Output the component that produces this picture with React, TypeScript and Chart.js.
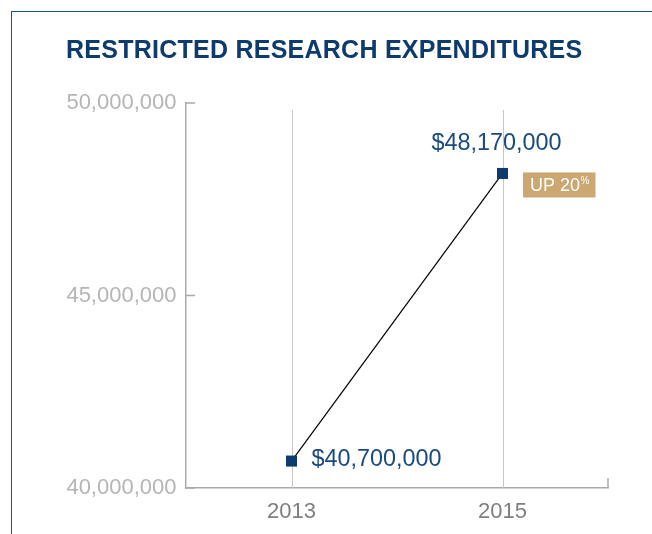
import React, { useEffect, useRef } from 'react';
import { Chart, registerables } from 'chart.js';

Chart.register(...registerables);

const chartTitle = 'RESTRICTED RESEARCH EXPENDITURES';
const years = [2013, 2015];
const values = [40700000, 48170000];
const yTicks = [40000000, 45000000, 50000000];
const xRange = [2012, 2016];
const badgeText = 'UP 20';
const badgeSup = '%';

const NAVY = '#0d3b6e';
const FONT = '"Liberation Sans", Arial, Helvetica, sans-serif';
const fmt = (v: number) => v.toLocaleString('en-US');

const overlay = {
  id: 'overlay',
  beforeDatasetsDraw(chart: any) {
    const { ctx, chartArea, scales } = chart;
    const x = scales.x;
    const y = scales.y;
    ctx.save();
    ctx.strokeStyle = '#c6c6c6';
    ctx.lineWidth = 1;
    years.forEach((yr) => {
      const px = Math.round(x.getPixelForValue(yr)) + 0.5;
      ctx.beginPath();
      ctx.moveTo(px, chartArea.top + 7);
      ctx.lineTo(px, chartArea.bottom);
      ctx.stroke();
    });
    ctx.strokeStyle = '#aaaaaa';
    ctx.lineWidth = 1.5;
    yTicks.forEach((v) => {
      const py = y.getPixelForValue(v);
      ctx.beginPath();
      ctx.moveTo(chartArea.left, py);
      ctx.lineTo(chartArea.left + 9, py);
      ctx.stroke();
    });
    const rx = x.getPixelForValue(xRange[1]);
    ctx.beginPath();
    ctx.moveTo(rx, chartArea.bottom);
    ctx.lineTo(rx, chartArea.bottom - 10);
    ctx.stroke();
    ctx.restore();
  },
  afterDatasetsDraw(chart: any) {
    const { ctx } = chart;
    const meta = chart.getDatasetMeta(0);
    const p0 = meta.data[0];
    const p1 = meta.data[1];
    ctx.save();
    ctx.fillStyle = '#1a4a7e';
    ctx.font = `23.4px ${FONT}`;
    ctx.textBaseline = 'alphabetic';
    ctx.textAlign = 'left';
    ctx.fillText('$' + fmt(values[0]), p0.x + 20, p0.y + 5);
    ctx.textAlign = 'center';
    ctx.fillText('$' + fmt(values[1]), p1.x - 6, p1.y - 23);
    // badge
    ctx.fillStyle = '#cba772';
    ctx.fillRect(p1.x + 20.5, p1.y - 1, 72.5, 25);
    ctx.fillStyle = '#ffffff';
    ctx.textAlign = 'left';
    ctx.font = `18px ${FONT}`;
    ctx.fillText(badgeText, p1.x + 27.5, p1.y + 18);
    const w = ctx.measureText(badgeText).width;
    ctx.font = `10px ${FONT}`;
    ctx.fillText(badgeSup, p1.x + 27.5 + w + 0.5, p1.y + 11);
    ctx.restore();
  },
};

export default function App() {
  const ref = useRef<HTMLCanvasElement | null>(null);
  useEffect(() => {
    if (!ref.current) return;
    const chart = new Chart(ref.current, {
      type: 'line',
      data: {
        datasets: [
          {
            data: years.map((yr, i) => ({ x: yr, y: values[i] })),
            borderColor: '#000000',
            borderWidth: 1.2,
            pointStyle: 'rect',
            pointRadius: 7.8,
            pointBackgroundColor: NAVY,
            pointBorderWidth: 0,
            fill: false,
            tension: 0,
          },
        ],
      },
      options: {
        animation: false,
        responsive: false,
        devicePixelRatio: 1,
        layout: { padding: { top: 103, right: 44, left: 0, bottom: 0 } },
        plugins: {
          legend: { display: false },
          tooltip: { enabled: false },
          title: { display: false },
        },
        scales: {
          x: {
            type: 'linear',
            min: xRange[0],
            max: xRange[1],
            afterBuildTicks: (s: any) => {
              s.ticks = years.map((v) => ({ value: v }));
            },
            afterFit: (s: any) => {
              s.height = 46;
            },
            grid: { display: false },
            border: { display: true, color: '#aaaaaa', width: 1.5 },
            ticks: {
              color: '#7f7f7f',
              font: { family: FONT, size: 22 },
              padding: 3,
              callback: (v: any) => String(v),
            },
          },
          y: {
            type: 'linear',
            min: yTicks[0],
            max: yTicks[yTicks.length - 1],
            afterBuildTicks: (s: any) => {
              s.ticks = yTicks.map((v) => ({ value: v }));
            },
            afterFit: (s: any) => {
              s.width = 186;
            },
            grid: { display: false },
            border: { display: true, color: '#aaaaaa', width: 1.5 },
            ticks: {
              color: '#b5b5b5',
              font: { family: FONT, size: 22 },
              padding: 1.5,
              callback: (v: any) => fmt(Number(v)),
            },
          },
        },
      },
      plugins: [overlay],
    } as any);
    return () => chart.destroy();
  }, []);

  return (
    <div
      style={{
        position: 'fixed',
        left: 0,
        top: 0,
        width: 652,
        height: 534,
        background: '#ffffff',
        overflow: 'hidden',
      }}
    >
      <div
        style={{
          position: 'absolute',
          left: 11,
          top: 11,
          right: -5,
          bottom: -5,
          borderTop: '1px solid #1f4f8c',
          borderLeft: '1px solid #1f4f8c',
        }}
      />
      <canvas
        ref={ref}
        width={652}
        height={534}
        style={{ position: 'absolute', left: 0, top: 0, width: 652, height: 534 }}
      />
      <div
        style={{
          position: 'absolute',
          left: 66,
          top: 37,
          fontFamily: FONT,
          fontWeight: 'bold',
          fontSize: 25,
          lineHeight: '25px',
          letterSpacing: '0.25px',
          color: NAVY,
          whiteSpace: 'nowrap',
        }}
      >
        {chartTitle}
      </div>
    </div>
  );
}
